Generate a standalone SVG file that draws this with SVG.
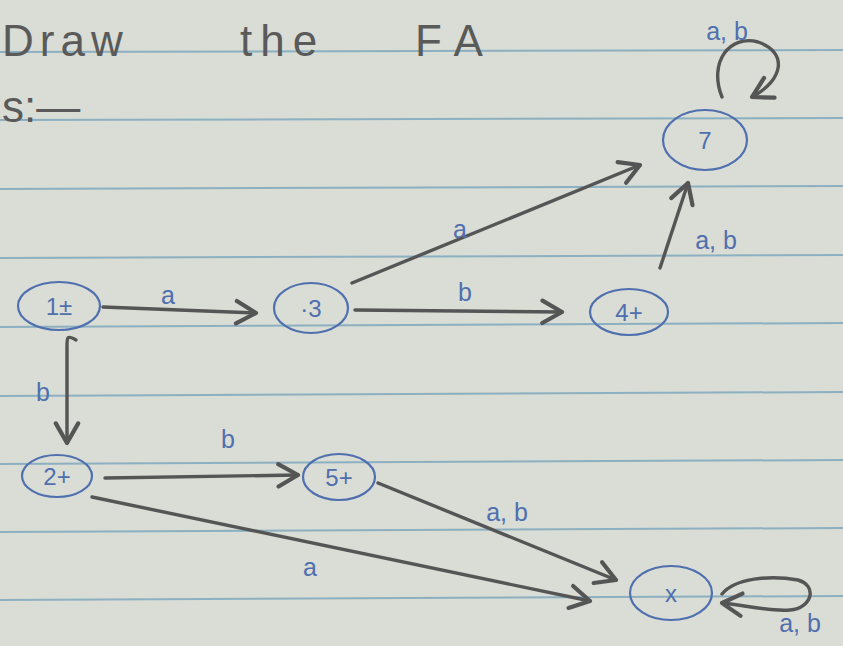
<svg xmlns="http://www.w3.org/2000/svg" width="843" height="646" viewBox="0 0 843 646">
<defs>
<style>
.rule{stroke:#7fa8bf;stroke-width:2;opacity:0.85}
.node ellipse{fill:none;stroke:#4f6fae;stroke-width:2.2}
.node text{font-family:"Liberation Sans",Arial,sans-serif;font-size:24px;fill:#4f6fae;text-anchor:middle;dominant-baseline:central}
.edge{fill:none;stroke:#555555;stroke-width:3.4;stroke-linecap:round;marker-end:url(#chev)}
.lbl{font-family:"Liberation Sans",Arial,sans-serif;font-size:25px;fill:#4f6fae;text-anchor:middle}
.hdr{font-family:"Liberation Sans",Arial,sans-serif;font-size:44px;fill:#5a5a5a}
</style>
<marker id="chev" viewBox="0 0 20 20" refX="17" refY="10" markerWidth="28" markerHeight="28" markerUnits="userSpaceOnUse" orient="auto">
<path d="M3,2 L17,10 L3,18" fill="none" stroke="#555555" stroke-width="3" stroke-linecap="round" stroke-linejoin="round"/>
</marker>
</defs>
<rect width="843" height="646" fill="#d9ddd5"/>
<g id="rules">
<line class="rule" x1="0" y1="52" x2="843" y2="50"/>
<line class="rule" x1="0" y1="120" x2="843" y2="118"/>
<line class="rule" x1="0" y1="189" x2="843" y2="186"/>
<line class="rule" x1="0" y1="258" x2="843" y2="255"/>
<line class="rule" x1="0" y1="327" x2="843" y2="323"/>
<line class="rule" x1="0" y1="396" x2="843" y2="392"/>
<line class="rule" x1="0" y1="464" x2="843" y2="460"/>
<line class="rule" x1="0" y1="532" x2="843" y2="528"/>
<line class="rule" x1="0" y1="600" x2="843" y2="596"/>
</g>
<g id="header">
<text class="hdr" x="2" y="56" letter-spacing="6">Draw</text>
<text class="hdr" x="240" y="56" letter-spacing="8">the</text>
<text class="hdr" x="415" y="56" letter-spacing="14">FA</text>
<text class="hdr" x="2" y="122" font-size="30">s:—</text>
</g>
<g id="connectors">
<path class="edge" d="M103,307 L256,313"/>
<path class="edge" d="M355,310 L562,312"/>
<path class="edge" d="M352,283 L640,165"/>
<path class="edge" d="M660,268 L688,183"/>
<path class="edge" d="M76,340 C66,334 67,338 67,350 L67,443"/>
<path class="edge" d="M105,478 L298,475"/>
<path class="edge" d="M378,483 L616,580"/>
<path class="edge" d="M92,497 L590,601"/>
<path class="edge" d="M722,97 C708,62 730,34 758,42 C788,52 784,80 752,97"/>
<path class="edge" d="M722,594 C735,578 770,575 798,580 C818,586 812,608 790,610 C770,612 745,605 722,603"/>
<text class="lbl" x="168" y="304">a</text>
<text class="lbl" x="460" y="238">a</text>
<text class="lbl" x="465" y="301">b</text>
<text class="lbl" x="716" y="249">a, b</text>
<text class="lbl" x="727" y="40">a, b</text>
<text class="lbl" x="43" y="401">b</text>
<text class="lbl" x="228" y="448">b</text>
<text class="lbl" x="507" y="521">a, b</text>
<text class="lbl" x="310" y="576">a</text>
<text class="lbl" x="800" y="632">a, b</text>
</g>
<g id="n1" class="node"><ellipse cx="59" cy="306" rx="41" ry="24"/><text x="59" y="306">1±</text></g>
<g id="n3" class="node"><ellipse cx="311" cy="308" rx="37" ry="25"/><text x="311" y="308">·3</text></g>
<g id="n4" class="node"><ellipse cx="629" cy="312" rx="39" ry="23"/><text x="629" y="312">4+</text></g>
<g id="n7" class="node"><ellipse cx="705" cy="140" rx="42" ry="30"/><text x="705" y="140">7</text></g>
<g id="n2" class="node"><ellipse cx="57" cy="476" rx="35" ry="21"/><text x="57" y="476">2+</text></g>
<g id="n5" class="node"><ellipse cx="339" cy="477" rx="36" ry="23"/><text x="339" y="477">5+</text></g>
<g id="nx" class="node"><ellipse cx="671" cy="593" rx="41" ry="27"/><text x="671" y="593">x</text></g>
</svg>
